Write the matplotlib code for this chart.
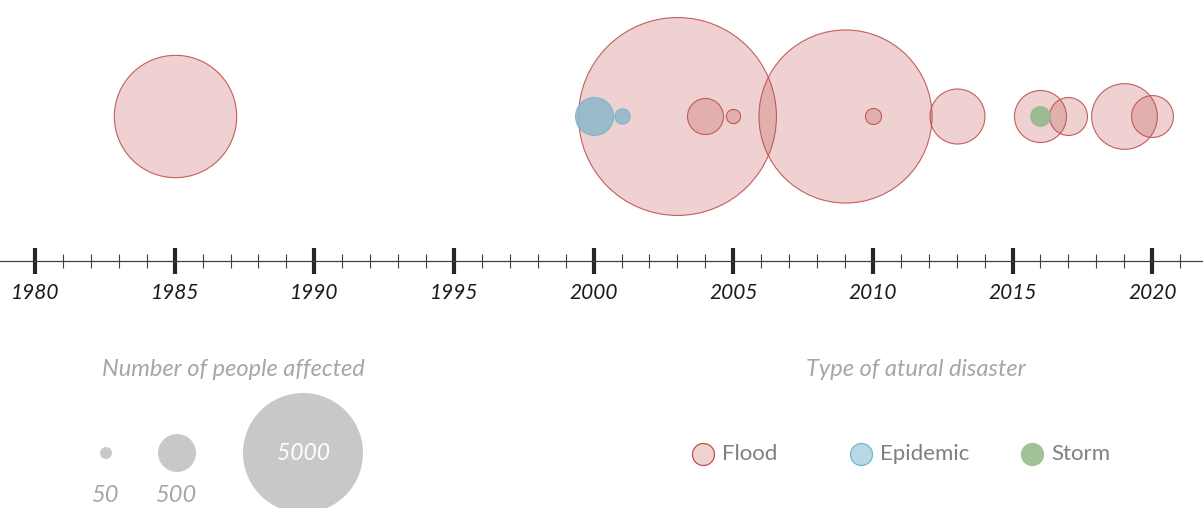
import matplotlib
matplotlib.use("Agg")
import matplotlib.pyplot as plt
import numpy as np

# data
years = [1985, 2000, 2001, 2003, 2004, 2005, 2009, 2010, 2013, 2016, 2016, 2017, 2019, 2020]
kinds = ['Flood', 'Epidemic', 'Epidemic', 'Flood', 'Flood', 'Flood', 'Flood', 'Flood',
         'Flood', 'Flood', 'Storm', 'Flood', 'Flood', 'Flood']
affected = [5200, 500, 80, 13600, 450, 70, 10400, 90, 1050, 940, 140, 500, 1500, 610]

legend_sizes = [50, 500, 5000]
legend_kinds = ['Flood', 'Epidemic', 'Storm']

face = {'Flood': (0.75, 0.31, 0.30, 0.26),
        'Epidemic': (0.56, 0.72, 0.80, 0.88),
        'Storm': (0.60, 0.73, 0.56, 0.95)}
edge = {'Flood': (0.75, 0.31, 0.30, 0.9),
        'Epidemic': (0.45, 0.68, 0.80, 0.8),
        'Storm': (0.60, 0.73, 0.56, 0.6)}
layer = {'Flood': 2, 'Epidemic': 3, 'Storm': 3}
legend_face = {'Flood': '#efd3d1', 'Epidemic': '#b7d9e3', 'Storm': '#a1c197'}
legend_edge = {'Flood': '#c0504d', 'Epidemic': '#6fb5cf', 'Storm': '#a1c197'}

plt.rcParams['font.family'] = ['Lato', 'DejaVu Sans']

DPI = 100
PX_PER_YEAR = 27.93


def size(v):
    # radius in pixels grows with sqrt of value, 5000 -> 60 px
    r = 60 * np.sqrt(np.asarray(v, dtype=float) / 5000)
    return (2 * r * 72 / DPI) ** 2


fig = plt.figure(figsize=(12.03, 5.08), dpi=DPI)

# timeline axes
ax = fig.add_axes([0, 0, 1, 1])
ax.patch.set_alpha(0)
for s in ['left', 'right', 'top']:
    ax.spines[s].set_visible(False)
ax.spines['bottom'].set_position(('data', 261))
ax.spines['bottom'].set_color('#404040')
ax.spines['bottom'].set_linewidth(0.9)
ax.set_yticks([])
ax.set_xticks(np.arange(1980, 2021, 5))
ax.set_xticks(np.arange(1980, 2022), minor=True)
ax.set_xlim(1980 - 35 / PX_PER_YEAR, 1980 + 1168 / PX_PER_YEAR)
ax.set_ylim(508, 0)
ax.tick_params(which='major', direction='inout', length=19, width=3, color='#262626',
               labelsize=15, pad=6, labelcolor='#1a1a1a')
ax.tick_params(which='minor', direction='inout', length=10, width=0.8, color='#404040')
for lab in ax.get_xticklabels():
    lab.set_style('italic')

for y, k, v in zip(years, kinds, affected):
    ax.scatter(y, 116, s=size(v), facecolor=face[k], edgecolor=edge[k], linewidth=0.8,
               zorder=layer[k])

# legend axes in pixel coordinates
lg = fig.add_axes([0, 0, 1, 1])
lg.set_xlim(0, 1203)
lg.set_ylim(508, 0)
lg.axis('off')
lg.patch.set_alpha(0)

lg.text(233, 369, 'Number of people affected', ha='center', va='center', fontsize=17,
        style='italic', color='#a6a6a6')
size_x = [106, 177, 303]
lg.scatter(size_x, [453] * 3, s=size(legend_sizes), color='#c8c8c8', linewidth=0, clip_on=False)
for x, v in zip(size_x[:2], legend_sizes[:2]):
    lg.text(x, 495, str(v), ha='center', va='center', fontsize=17, style='italic', color='#a6a6a6')
lg.text(size_x[2], 453, str(legend_sizes[2]), ha='center', va='center', fontsize=16.5,
        style='italic', color='white')

lg.text(916, 369, 'Type of atural disaster', ha='center', va='center', fontsize=17,
        style='italic', color='#a6a6a6')
kind_x = [703, 861, 1032]
for x, k in zip(kind_x, legend_kinds):
    lg.scatter(x, 454, s=(22 * 0.72) ** 2, facecolor=legend_face[k], edgecolor=legend_edge[k],
               linewidth=0.9)
    lg.text(x + 19, 454, k, ha='left', va='center', fontsize=16, color='#7f7f7f')

fig.savefig('out.png', dpi=DPI)
